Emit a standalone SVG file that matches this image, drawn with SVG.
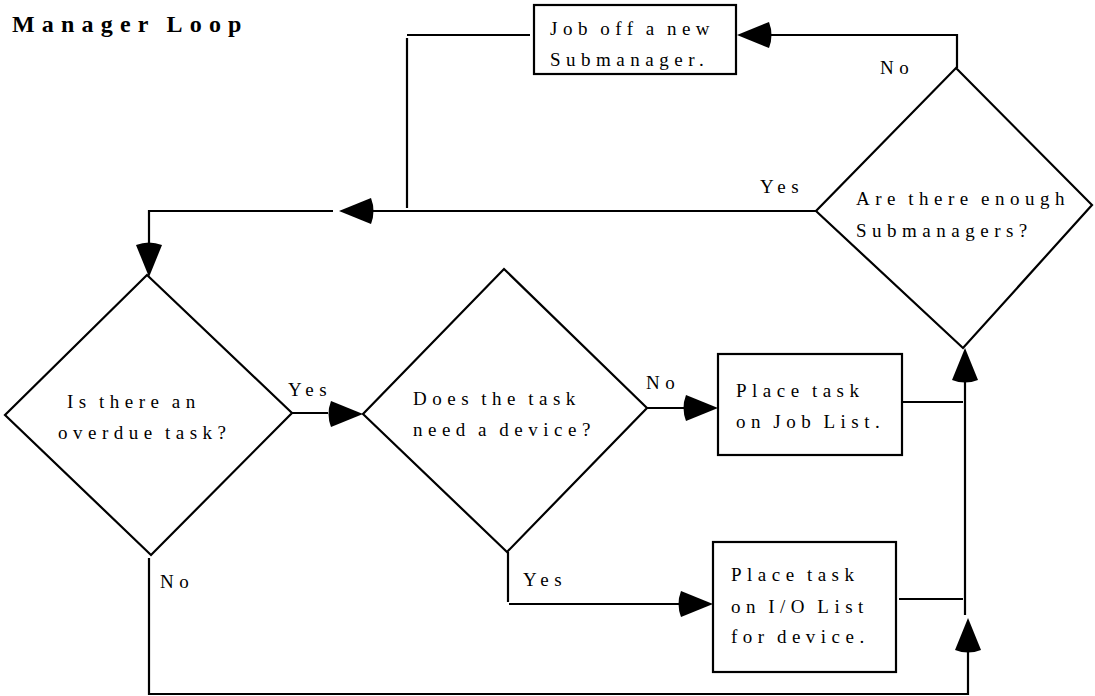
<svg xmlns="http://www.w3.org/2000/svg" xmlns:xlink="http://www.w3.org/1999/xlink" width="1095" height="696" viewBox="0 0 1095 696">
<style>
.shape{fill:#fff;stroke:#000;stroke-width:2.2}
.line{fill:none;stroke:#000;stroke-width:2.2}
.t{font-family:"Liberation Serif","Times New Roman",serif;font-size:19px;letter-spacing:5.5px;word-spacing:-3px;fill:#000}
.title{font-family:"Liberation Serif","Times New Roman",serif;font-size:24px;font-weight:bold;letter-spacing:7.2px;word-spacing:-2px;fill:#000}
</style>
<defs>
<path id="ah" d="M0,0 L-32,-13 Q-37,0 -32,13 Z" fill="#000"/>
</defs>
<rect width="1095" height="696" fill="#fff"/>
<text class="title" x="12" y="32">Manager Loop</text>

<g id="connectors">
<polyline class="line" points="957,68 957,35 770,35"/>
<use xlink:href="#ah" transform="translate(737,35) rotate(180)"/>
<polyline class="line" points="530,35 407,35"/>
<polyline class="line" points="407,38 407,208"/>
<polyline class="line" points="816,211 372,211"/>
<use xlink:href="#ah" transform="translate(339,211) rotate(180)"/>
<polyline class="line" points="333,211 149,211 149,250"/>
<use xlink:href="#ah" transform="translate(149,277) rotate(90)"/>
<polyline class="line" points="292,413 328,413"/>
<use xlink:href="#ah" transform="translate(363,414)"/>
<polyline class="line" points="647,408 687,408"/>
<use xlink:href="#ah" transform="translate(718,408)"/>
<polyline class="line" points="508,552 508,602"/>
<polyline class="line" points="509,604 682,604"/>
<use xlink:href="#ah" transform="translate(713,604)"/>
<polyline class="line" points="903,402 963,402"/>
<polyline class="line" points="899,599 963,599"/>
<polyline class="line" points="965,615 965,379"/>
<use xlink:href="#ah" transform="translate(965,348) rotate(-90)"/>
<polyline class="line" points="149,558 149,694 968,694 968,649"/>
<use xlink:href="#ah" transform="translate(968,618) rotate(-90)"/>
<text class="t" x="880" y="74">No</text>
<text class="t" x="760" y="193">Yes</text>
<text class="t" x="288" y="396">Yes</text>
<text class="t" x="646" y="389">No</text>
<text class="t" x="523" y="586">Yes</text>
<text class="t" x="160" y="588">No</text>
</g>

<g id="job-off">
<rect class="shape" x="534" y="5" width="202" height="69"/>
<text class="t" x="550" y="35">Job off a new</text>
<text class="t" x="550" y="66">Submanager.</text>
</g>

<g id="enough-submanagers">
<polygon class="shape" points="956,68 1092,205 963,348 816,211"/>
<text class="t" x="856" y="205">Are there enough</text>
<text class="t" x="856" y="237">Submanagers?</text>
</g>

<g id="overdue-task">
<polygon class="shape" points="147,275 292,413 151,555 5,415"/>
<text class="t" x="67" y="408">Is there an</text>
<text class="t" x="58" y="439">overdue task?</text>
</g>

<g id="need-device">
<polygon class="shape" points="504,269 647,408 507,552 363,414"/>
<text class="t" x="413" y="405">Does the task</text>
<text class="t" x="413" y="436">need a device?</text>
</g>

<g id="job-list">
<rect class="shape" x="718" y="354" width="184" height="101"/>
<text class="t" x="736" y="397">Place task</text>
<text class="t" x="736" y="428">on Job List.</text>
</g>

<g id="io-list">
<rect class="shape" x="713" y="542" width="183" height="130"/>
<text class="t" x="731" y="581">Place task</text>
<text class="t" x="731" y="613">on I/O List</text>
<text class="t" x="731" y="643">for device.</text>
</g>
</svg>
